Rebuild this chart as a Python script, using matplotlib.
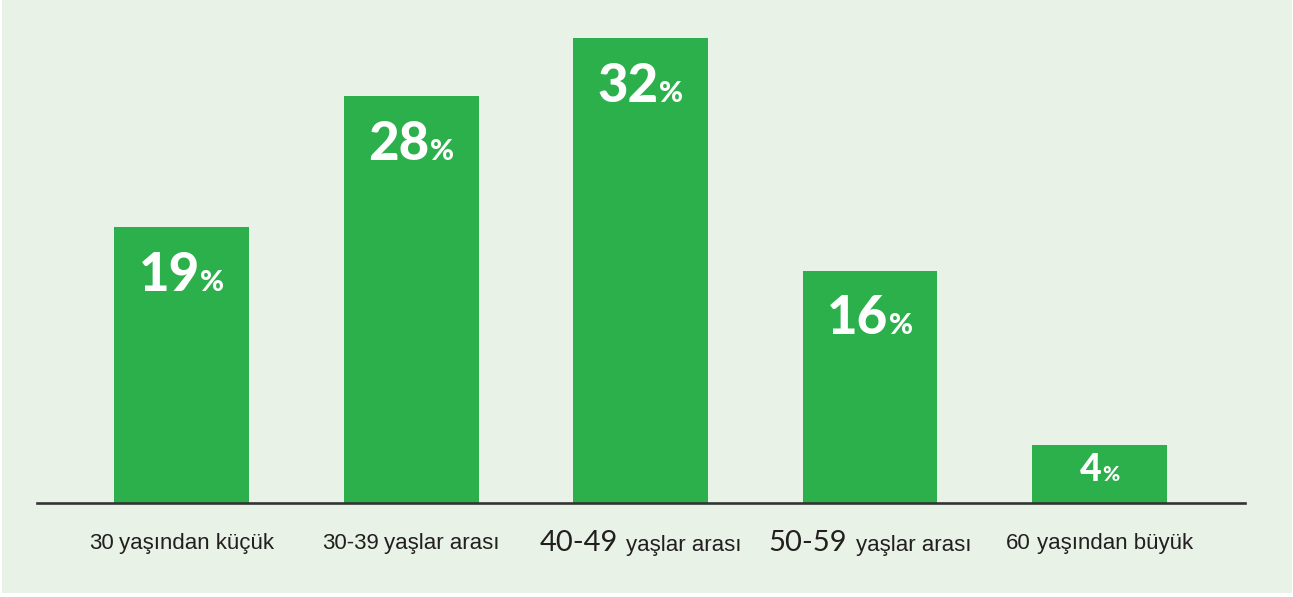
import matplotlib.pyplot as plt
from matplotlib.patches import Rectangle
from matplotlib.offsetbox import TextArea, HPacker, AnnotationBbox
import numpy as np

# ----------------------------------------------------
# Data
# ----------------------------------------------------
age_groups = ['30 yaşından küçük', '30-39 yaşlar arası', '40-49 yaşlar arası',
              '50-59 yaşlar arası', '60 yaşından büyük']
shares = [19, 28, 32, 16, 4]

# ----------------------------------------------------
# Styling
# ----------------------------------------------------
bg = '#E8F2E6'
green = '#2BB04B'
ink = '#231F20'
num_font = ['Lato', 'DejaVu Sans']
narrow_font = ['Liberation Sans Narrow', 'Liberation Sans', 'DejaVu Sans']

fig = plt.figure(figsize=(12.93, 5.97), dpi=100, facecolor='white')
fig.patches.append(Rectangle((2 / 1293, 4 / 597), 1 - 3 / 1293, 1 - 4 / 597,
                             transform=fig.transFigure, facecolor=bg,
                             edgecolor='none', zorder=-10))

ax = fig.add_axes([37 / 1293, 94 / 597, (1245 - 37) / 1293, (577 - 94) / 597])
ax.set_facecolor('none')
ax.set_zorder(1)

x = np.arange(len(shares))
ax.bar(x, shares, width=0.588, color=green, zorder=2)

ax.set_xlim(-0.63, 4.634)
ax.set_ylim(0, 33.25)
for s in ['top', 'right', 'left']:
    ax.spines[s].set_visible(False)
ax.spines['bottom'].set_color('#333333')
ax.spines['bottom'].set_linewidth(1.9)
ax.spines['bottom'].set_zorder(3)
ax.set_yticks([])
ax.set_xticks([])

# value labels inside the bars
for i, v in enumerate(shares):
    big = v >= 10
    nsize, psize = (38, 21) if big else (27, 15)
    num = TextArea(str(v), textprops=dict(color='white', fontsize=nsize,
                                          fontweight='black', family=num_font))
    pct = TextArea('%', textprops=dict(color='white', fontsize=psize,
                                       fontweight='black', family=num_font))
    box = HPacker(children=[num, pct], align='baseline', pad=0, sep=0)
    dy = -17 if big else -6
    ab = AnnotationBbox(box, (i, v), xybox=(0, dy), boxcoords='offset points',
                        box_alignment=(0.5, 1), frameon=False, zorder=4)
    ax.add_artist(ab)

# category labels (mixed fonts for the 40-49 / 50-59 groups)
for i, label in enumerate(age_groups):
    first, rest = label.split(' ', 1)
    if first in ('40-49', '50-59'):
        p1 = dict(color=ink, fontsize=21, family=num_font)
        sep = 6
    else:
        p1 = dict(color=ink, fontsize=16, family=narrow_font)
        sep = 4
    t1 = TextArea(first, textprops=p1)
    t2 = TextArea(rest, textprops=dict(color=ink, fontsize=16, family=narrow_font))
    box = HPacker(children=[t1, t2], align='baseline', pad=0, sep=sep)
    ab = AnnotationBbox(box, (i, 0), xybox=(0, -29), boxcoords='offset points',
                        box_alignment=(0.5, 0.5), frameon=False,
                        annotation_clip=False)
    ax.add_artist(ab)

plt.savefig('out.png', dpi=100, facecolor=fig.get_facecolor())
